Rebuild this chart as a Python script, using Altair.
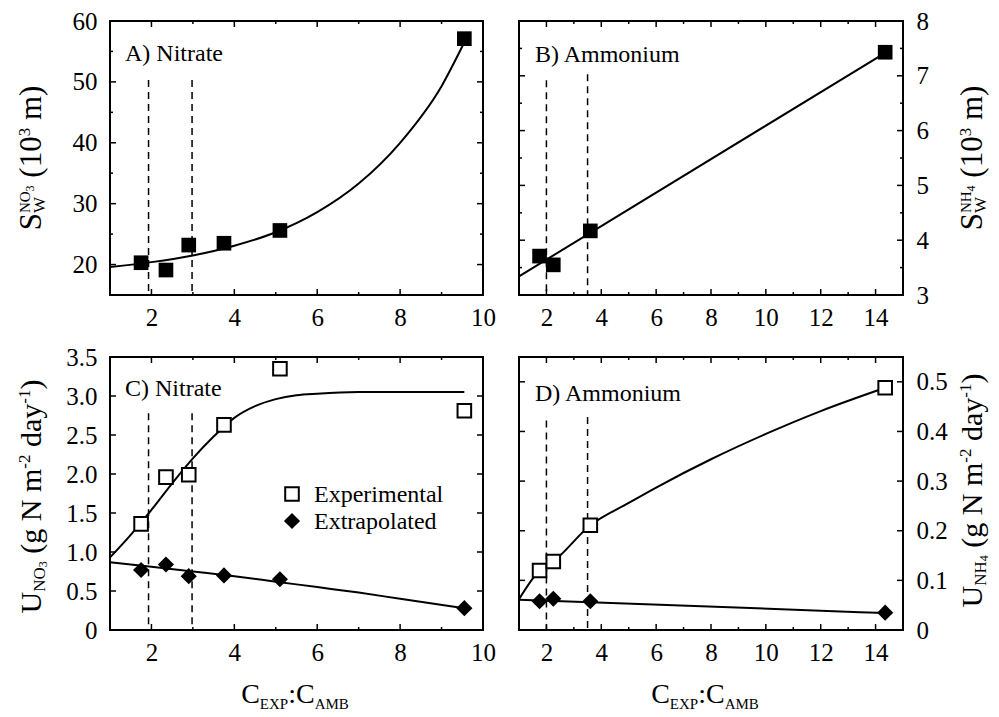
import altair as alt
import pandas as pd

# ---------------- data ----------------
x_no3 = [1.75, 2.35, 2.9, 3.75, 5.1, 9.55]
sw_no3 = [20.3, 19.1, 23.2, 23.5, 25.6, 57.1]
u_no3_exp = [1.36, 1.96, 1.99, 2.63, 3.35, 2.81]
u_no3_ext = [0.77, 0.84, 0.69, 0.70, 0.65, 0.28]

x_nh4 = [1.75, 2.25, 3.6, 14.35]
sw_nh4 = [3.71, 3.55, 4.17, 7.43]
u_nh4_exp = [0.12, 0.138, 0.211, 0.488]
u_nh4_ext = [0.058, 0.063, 0.058, 0.035]

# fitted curves
fit_sw_no3_x = [1, 2, 3, 4, 5, 6, 7, 8, 9, 9.55]
fit_sw_no3_y = [19.6, 20.4, 21.5, 23.1, 25.3, 28.6, 33.3, 40.0, 49.3, 56.5]
fit_sw_nh4_x = [1, 14.35]
fit_sw_nh4_y = [3.34, 7.42]
fit_u_no3_exp_x = [1, 1.5, 2, 2.5, 3, 3.5, 4, 4.5, 5, 5.5, 6, 7, 8, 9.55]
fit_u_no3_exp_y = [0.93, 1.22, 1.54, 1.88, 2.2, 2.48, 2.72, 2.87, 2.96, 3.01, 3.03, 3.05, 3.05, 3.05]
fit_u_no3_ext_x = [1, 2, 3, 4, 5, 6, 7, 8, 9.55]
fit_u_no3_ext_y = [0.87, 0.81, 0.75, 0.69, 0.62, 0.55, 0.48, 0.40, 0.28]
fit_u_nh4_exp_x = [1, 1.75, 2.25, 3.6, 5, 6, 8, 10, 12, 14.35]
fit_u_nh4_exp_y = [0.062, 0.12, 0.138, 0.211, 0.256, 0.287, 0.344, 0.395, 0.441, 0.488]
fit_u_nh4_ext_x = [1, 3.6, 14.35]
fit_u_nh4_ext_y = [0.061, 0.056, 0.034]

# dashed reference lines
dash_no3_x = [1.93, 2.98]
dash_sw_no3_top = [50.3, 50.3]
dash_u_no3_top = [2.78, 2.78]
dash_nh4_x = [2.0, 3.5]
dash_sw_nh4_top = [6.92, 7.03]
dash_u_nh4_top = [0.422, 0.429]

# axes ticks
xt_no3_major = [2, 4, 6, 8, 10]
xt_no3_minor = [1, 3, 5, 7, 9]
xt_nh4_major = [2, 4, 6, 8, 10, 12, 14]
xt_nh4_minor = [1, 3, 5, 7, 9, 11, 13, 15]
yt_sw_no3_major = [20, 30, 40, 50, 60]
yt_sw_no3_minor = [25, 35, 45, 55]
yt_sw_nh4_major = [3, 4, 5, 6, 7, 8]
yt_sw_nh4_minor = [3.5, 4.5, 5.5, 6.5, 7.5]
yt_u_no3_major = [0, 0.5, 1.0, 1.5, 2.0, 2.5, 3.0, 3.5]
yt_u_no3_minor = []
yt_u_nh4_major = [0, 0.1, 0.2, 0.3, 0.4, 0.5]
yt_u_nh4_minor = []

FONT = "Liberation Serif, Times New Roman, Times, serif"
LBL = 24
TICKLBL = 25
DUMMY = pd.DataFrame({"d": [0]})

ADV = {' ': 250, '(': 333, ')': 333, '-': 333, '0': 500, '1': 500, '2': 500,
       '3': 500, '4': 500, ':': 278, 'A': 722, 'B': 667, 'C': 667, 'E': 611,
       'H': 722, 'M': 889, 'N': 722, 'O': 722, 'P': 556, 'S': 556, 'U': 722,
       'W': 944, 'X': 722, 'a': 444, 'd': 500, 'g': 500, 'm': 778, 'y': 500}


def tlen(s, size):
    return sum(ADV.get(ch, 500) for ch in s) * size / 1000.0


def rich(segments, cx, cy, rotated):
    pos = 0.0
    items = []
    for text, size, shift, adv in segments:
        lead = len(text) - len(text.lstrip(" "))
        body = text.lstrip(" ")
        start = pos + tlen(" " * lead, size)
        items.append((body, size, shift, start))
        if adv:
            pos = start + tlen(body, size)
    L = pos
    layers = []
    for text, size, shift, p in items:
        if rotated:
            x = cx - shift
            y = cy + L / 2 - p
        else:
            x = cx - L / 2 + p
            y = cy - shift
        layers.append(
            alt.Chart(DUMMY).mark_text(
                text=text, font=FONT, fontSize=size, angle=270 if rotated else 0,
                align="left", baseline="alphabetic", color="black"
            ).encode(x=alt.value(x), y=alt.value(y))
        )
    return layers


def label(text, x, y, size=LBL):
    return alt.Chart(DUMMY).mark_text(
        text=text, font=FONT, fontSize=size, align="left", baseline="alphabetic",
        color="black").encode(x=alt.value(x), y=alt.value(y))


class Ctx:
    pass


def panel(W, H, xdom, ydom, xmaj, xmin, ymaj, ymin, yorient, yexpr, body_fn):
    c = Ctx()
    c.W, c.H = W, H
    c.xs = alt.Scale(domain=xdom, nice=False, zero=False)
    c.ys = alt.Scale(domain=ydom, nice=False, zero=False)
    c.xa = alt.Axis(values=xmaj, ticks=False, domain=False, grid=False,
                    labelFont=FONT, labelFontSize=TICKLBL, labelColor="black",
                    labelPadding=10, labelFlush=False, labelOverlap=False,
                    title=None, format="d")
    yargs = dict(values=ymaj, ticks=False, domain=False, grid=False,
                 labelFont=FONT, labelFontSize=TICKLBL, labelColor="black",
                 labelPadding=13, labelFlush=False, labelOverlap=False,
                 title=None, orient=yorient)
    if yexpr:
        yargs["labelExpr"] = yexpr
    c.ya = alt.Axis(**yargs)
    X = lambda f: alt.X(f, scale=c.xs, axis=c.xa)
    Y = lambda f: alt.Y(f, scale=c.ys, axis=c.ya)
    c.X, c.Y = X, Y
    layers = body_fn(c)
    rule = dict(color="black", strokeWidth=1.5)
    for vals, Ln in [(xmaj, 6), (xmin, 3)]:
        if not vals:
            continue
        df = pd.DataFrame({"t": vals})
        layers.append(alt.Chart(df).mark_rule(**rule).encode(
            x=X("t:Q"), y=alt.value(0), y2=alt.value(Ln)))
        layers.append(alt.Chart(df).mark_rule(**rule).encode(
            x=X("t:Q"), y=alt.value(H), y2=alt.value(H - Ln)))
    for vals, Ln in [(ymaj, 6), (ymin, 3)]:
        if not vals:
            continue
        df = pd.DataFrame({"t": vals})
        layers.append(alt.Chart(df).mark_rule(**rule).encode(
            y=Y("t:Q"), x=alt.value(0), x2=alt.value(Ln)))
        layers.append(alt.Chart(df).mark_rule(**rule).encode(
            y=Y("t:Q"), x=alt.value(W), x2=alt.value(W - Ln)))
    return alt.layer(*layers).properties(width=W, height=H)


def curve(c, xv, yv, interp="monotone"):
    df = pd.DataFrame({"x": xv, "y": yv})
    return alt.Chart(df).mark_line(color="black", strokeWidth=2, interpolate=interp).encode(
        x=c.X("x:Q"), y=c.Y("y:Q"))


def dashes(c, xv, topv):
    df = pd.DataFrame({"x": xv, "top": topv})
    return alt.Chart(df).mark_rule(color="black", strokeWidth=1.5, strokeDash=[7, 5]).encode(
        x=c.X("x:Q"), y=c.Y("top:Q"), y2=alt.value(c.H))


def pts(c, xv, yv, kind):
    df = pd.DataFrame({"x": xv, "y": yv})
    if kind == "fsq":
        m = alt.Chart(df).mark_square(size=215, color="black", opacity=1)
    elif kind == "osq":
        m = alt.Chart(df).mark_square(size=185, fill="white", stroke="black",
                                      strokeWidth=2, opacity=1)
    else:
        m = alt.Chart(df).mark_point(shape="diamond", filled=True, size=260,
                                     color="black", opacity=1)
    return m.encode(x=c.X("x:Q"), y=c.Y("y:Q"))


WL, WR = 373, 384
HT, HB = 274, 273
BIGS, SUBS = 31, 17
BIG, SUB, TINY = 30, 17, 12
dec_expr = "datum.value == 0 ? '0' : format(datum.value, '.1f')"

title_sw_no3 = [("S", BIGS, 0, True), ("W", SUBS, -4, False), ("NO", 15, 11, True),
                ("3", TINY, 7, True), (" (10", BIGS, 0, True), ("3", SUBS, 11, True),
                (" m)", BIGS, 0, True)]
title_sw_nh4 = [("S", BIGS, 0, True), ("W", SUBS, -4, False), ("NH", 15, 11, True),
                ("4", TINY, 7, True), (" (10", BIGS, 0, True), ("3", SUBS, 11, True),
                (" m)", BIGS, 0, True)]
title_u_no3 = [("U", BIG, 0, True), ("NO", SUB, -4, True), ("3", TINY, -6, True),
               (" (g N m", BIG, 0, True), ("-2", SUB, 11, True), (" day", BIG, 0, True),
               ("-1", SUB, 11, True), (")", BIG, 0, True)]
title_u_nh4 = [("U", BIG, 0, True), ("NH", SUB, -4, True), ("4", TINY, -6, True),
               (" (g N m", BIG, 0, True), ("-2", SUB, 11, True), (" day", BIG, 0, True),
               ("-1", SUB, 11, True), (")", BIG, 0, True)]
title_x = [("C", 28, 0, True), ("EXP", 15, -6, True), (":", 28, 0, True),
           ("C", 28, 0, True), ("AMB", 15, -6, True)]

LEFT_T, RIGHT_T = -69, 463


def body_a(c):
    return ([curve(c, fit_sw_no3_x, fit_sw_no3_y),
             dashes(c, dash_no3_x, dash_sw_no3_top),
             pts(c, x_no3, sw_no3, "fsq"),
             label("A) Nitrate", 15, 40)]
            + rich(title_sw_no3, LEFT_T, HT / 2, True))


def body_b(c):
    return ([curve(c, fit_sw_nh4_x, fit_sw_nh4_y, "linear"),
             dashes(c, dash_nh4_x, dash_sw_nh4_top),
             pts(c, x_nh4, sw_nh4, "fsq"),
             label("B) Ammonium", 16, 41)]
            + rich(title_sw_nh4, RIGHT_T, HT / 2, True))


def body_c(c):
    return ([curve(c, fit_u_no3_exp_x, fit_u_no3_exp_y),
             curve(c, fit_u_no3_ext_x, fit_u_no3_ext_y),
             dashes(c, dash_no3_x, dash_u_no3_top),
             pts(c, x_no3, u_no3_exp, "osq"),
             pts(c, x_no3, u_no3_ext, "dia"),
             label("C) Nitrate", 15, 39),
             alt.Chart(DUMMY).mark_square(size=185, fill="white", stroke="black",
                                          strokeWidth=2, opacity=1).encode(
                 x=alt.value(182), y=alt.value(137)),
             label("Experimental", 204, 145),
             alt.Chart(DUMMY).mark_point(shape="diamond", filled=True, size=260,
                                         color="black", opacity=1).encode(
                 x=alt.value(182), y=alt.value(164)),
             label("Extrapolated", 204, 172)]
            + rich(title_u_no3, LEFT_T, HB / 2 + 3, True)
            + rich(title_x, 185, 346, False))


def body_d(c):
    return ([curve(c, fit_u_nh4_exp_x, fit_u_nh4_exp_y),
             curve(c, fit_u_nh4_ext_x, fit_u_nh4_ext_y),
             dashes(c, dash_nh4_x, dash_u_nh4_top),
             pts(c, x_nh4, u_nh4_exp, "osq"),
             pts(c, x_nh4, u_nh4_ext, "dia"),
             label("D) Ammonium", 16, 44)]
            + rich(title_u_nh4, RIGHT_T, HB / 2 - 3, True)
            + rich(title_x, 186, 346, False))


pa = panel(WL, HT, [1, 10], [15, 60], xt_no3_major, xt_no3_minor,
           yt_sw_no3_major, yt_sw_no3_minor, "left", None, body_a)
pb = panel(WR, HT, [1, 15], [3, 8], xt_nh4_major, xt_nh4_minor,
           yt_sw_nh4_major, yt_sw_nh4_minor, "right", None, body_b)
pc = panel(WL, HB, [1, 10], [0, 3.5], xt_no3_major, xt_no3_minor,
           yt_u_no3_major, yt_u_no3_minor, "left", dec_expr, body_c)
pd_ = panel(WR, HB, [1, 15], [0, 0.55], xt_nh4_major, xt_nh4_minor,
            yt_u_nh4_major, yt_u_nh4_minor, "right", dec_expr, body_d)

chart = alt.concat(pa, pb, pc, pd_, columns=2, spacing={"row": 62, "column": 36},
                   bounds="flush").properties(
    padding={"left": 7, "top": 0, "right": 0, "bottom": 0}
).configure_view(stroke="black", strokeWidth=2).resolve_scale(
    x="independent", y="independent")

chart.save("out.html", embed_options={"renderer": "svg", "actions": False})
